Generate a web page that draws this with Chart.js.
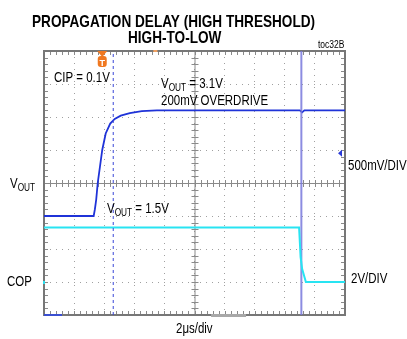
<!DOCTYPE html>
<html>
<head>
<meta charset="utf-8">
<script src="https://cdn.jsdelivr.net/npm/chart.js@4.4.1/dist/chart.umd.min.js"></script>
<style>
  body { margin: 0; background: #fff; }
</style>
</head>
<body>
<canvas id="chart" width="407" height="339"></canvas>
<script>
// horizontal: 2us/div over 10 divisions
const timeRange = [0, 20];
// VOUT channel: 500mV/div, COP channel: 2V/div (8 divisions each)
const voutRange = [0, 4];
const copRange = [-2, 14];

const voutTime = [0, 3.3, 3.38, 3.47, 3.57, 3.72, 3.87, 4.1, 4.4, 4.7, 5.1, 5.7, 6.5, 7.5, 17.0, 17.15, 17.3, 20];
const voutVolts = [1.5, 1.5, 1.6, 1.75, 2.0, 2.25, 2.5, 2.75, 2.9, 2.97, 3.02, 3.06, 3.09, 3.1, 3.1, 3.07, 3.1, 3.1];

const copTime = [0, 16.95, 17.05, 17.15, 17.4, 20];
const copVolts = [3.3, 3.3, 1.5, 0.8, 0, 0];

const cursorTime = 4.6;    // dashed cursor, CIP = 0.1V
const edgeTime = 17.1;     // solid cursor on the COP edge
const triggerTime = 3.87;
const markerTime = 7.4;
const voutOffset = 2.45;

const toPoints = (xs, ys) => xs.map((x, i) => ({ x: x, y: ys[i] }));

// draws squeezed text like the scope printout
function label(ctx, text, x, y, size, bold, sx) {
  ctx.save();
  ctx.translate(x, y);
  ctx.scale(sx, 1);
  ctx.font = (bold ? 'bold ' : '') + size + 'px "Liberation Sans", Arial, sans-serif';
  ctx.fillText(text, 0, 0);
  const w = ctx.measureText(text).width * sx;
  ctx.restore();
  return x + w;
}

// V with OUT subscript, then the rest of the string
function voutLabel(ctx, rest, x, y, size, sx) {
  let nx = label(ctx, 'V', x, y, size, false, sx);
  nx = label(ctx, 'OUT', nx, y + 3, size * 0.72, false, sx);
  if (rest) label(ctx, rest, nx, y, size, false, sx);
}

const scopePlugin = {
  id: 'scope',
  beforeDatasetsDraw(chart) {
    const { ctx, chartArea: a, scales } = chart;
    const cx = scales.x.getPixelForValue(10);
    const cy = scales.y.getPixelForValue(2);
    ctx.save();
    ctx.strokeStyle = '#8a8a8a';
    ctx.lineWidth = 1;
    // centre cross
    ctx.beginPath();
    ctx.moveTo(a.left, cy + 0.5); ctx.lineTo(a.right, cy + 0.5);
    ctx.moveTo(cx + 0.5, a.top); ctx.lineTo(cx + 0.5, a.bottom);
    // minor ticks, 5 per division
    for (let t = 0; t <= 20; t += 0.4) {
      const px = Math.round(scales.x.getPixelForValue(t)) + 0.5;
      ctx.moveTo(px, cy - 3); ctx.lineTo(px, cy + 4);
      ctx.moveTo(px, a.top); ctx.lineTo(px, a.top + 4);
      ctx.moveTo(px, a.bottom); ctx.lineTo(px, a.bottom - 4);
    }
    for (let v = 0; v <= 4; v += 0.1) {
      const py = Math.round(scales.y.getPixelForValue(v)) + 0.5;
      ctx.moveTo(cx - 3, py); ctx.lineTo(cx + 4, py);
      ctx.moveTo(a.left, py); ctx.lineTo(a.left + 4, py);
      ctx.moveTo(a.right, py); ctx.lineTo(a.right - 4, py);
    }
    ctx.stroke();
    // frame
    ctx.strokeStyle = '#777';
    ctx.lineWidth = 2;
    ctx.strokeRect(a.left, a.top, a.right - a.left, a.bottom - a.top);
    // bottom status bars
    ctx.fillStyle = '#3a4fd0';
    ctx.fillRect(a.left, a.bottom - 1, 18, 2);
    ctx.fillStyle = '#a8a8a8';
    ctx.fillRect(scales.x.getPixelForValue(11.1), a.bottom - 1, 35, 3);
    ctx.restore();
  },
  afterDatasetsDraw(chart) {
    const { ctx, chartArea: a, scales } = chart;
    ctx.save();
    // trigger marker
    const tx = scales.x.getPixelForValue(triggerTime);
    ctx.fillStyle = '#f07820';
    ctx.beginPath();
    ctx.moveTo(tx - 5, a.top); ctx.lineTo(tx + 5, a.top); ctx.lineTo(tx, a.top + 6);
    ctx.fill();
    ctx.beginPath();
    ctx.roundRect(tx - 4.5, a.top + 5, 9, 11, 3);
    ctx.fill();
    ctx.fillStyle = '#fff';
    ctx.font = 'bold 9px "Liberation Sans", sans-serif';
    ctx.textAlign = 'center';
    ctx.fillText('T', tx, a.top + 14.5);
    ctx.textAlign = 'left';
    // delay marker on the top edge
    ctx.fillStyle = '#f0a060';
    ctx.fillRect(scales.x.getPixelForValue(markerTime) - 2, a.top - 1, 4, 2);
    // VOUT offset arrow
    const oy = scales.y.getPixelForValue(voutOffset);
    ctx.fillStyle = '#2a3ad8';
    ctx.beginPath();
    ctx.moveTo(a.right - 7, oy); ctx.lineTo(a.right - 3, oy - 3.5); ctx.lineTo(a.right - 3, oy + 3.5);
    ctx.fill();
    // COP ground marker
    ctx.fillStyle = '#30e0f0';
    ctx.fillRect(a.left - 1, scales.yCop.getPixelForValue(0) - 1, 2, 3);

    // text
    ctx.fillStyle = '#000';
    label(ctx, 'PROPAGATION DELAY (HIGH THRESHOLD)', 32, 27, 17, true, 0.8);
    label(ctx, 'HIGH-TO-LOW', 128, 43, 17, true, 0.8);
    label(ctx, 'toc32B', 318, 48, 10, false, 0.85);
    label(ctx, 'CIP = 0.1V', 54, 82, 14, false, 0.82);
    voutLabel(ctx, ' = 3.1V', 161, 88, 14, 0.82);
    label(ctx, '200mV OVERDRIVE', 161, 105, 14, false, 0.82);
    label(ctx, '500mV/DIV', 348, 170, 14, false, 0.82);
    voutLabel(ctx, '', 10, 188, 14, 0.82);
    voutLabel(ctx, ' = 1.5V', 107, 213, 14, 0.82);
    label(ctx, 'COP', 7, 286, 14, false, 0.82);
    label(ctx, '2V/DIV', 351, 283, 14, false, 0.82);
    label(ctx, '2\u03bcs/div', 176, 333, 14, false, 0.82);
    ctx.restore();
  }
};

new Chart(document.getElementById('chart'), {
  type: 'line',
  data: {
    datasets: [
      {
        label: 'dashed cursor',
        data: toPoints([cursorTime, cursorTime], voutRange),
        borderColor: '#3a48d8',
        borderWidth: 1,
        borderDash: [3, 3],
        pointRadius: 0,
        yAxisID: 'y'
      },
      {
        label: 'COP',
        data: toPoints(copTime, copVolts),
        borderColor: '#28e4f2',
        borderWidth: 2,
        pointRadius: 0,
        yAxisID: 'yCop'
      },
      {
        label: 'edge cursor',
        data: toPoints([edgeTime, edgeTime], voutRange),
        borderColor: 'rgba(120, 120, 220, 0.85)',
        borderWidth: 2,
        pointRadius: 0,
        yAxisID: 'y'
      },
      {
        label: 'VOUT',
        data: toPoints(voutTime, voutVolts),
        borderColor: '#1f33d8',
        borderWidth: 1.8,
        pointRadius: 0,
        yAxisID: 'y'
      }
    ]
  },
  options: {
    responsive: false,
    animation: false,
    events: [],
    layout: { padding: { left: 44, top: 51, right: 62, bottom: 24 } },
    plugins: { legend: { display: false }, tooltip: { enabled: false } },
    scales: {
      x: {
        type: 'linear',
        min: timeRange[0],
        max: timeRange[1],
        ticks: { display: false, stepSize: 2 },
        grid: { color: '#a0a0a0', drawTicks: false },
        border: { display: false, dash: [1, 5] }
      },
      y: {
        min: voutRange[0],
        max: voutRange[1],
        ticks: { display: false, stepSize: 0.5 },
        grid: { color: '#a0a0a0', drawTicks: false },
        border: { display: false, dash: [1, 5] }
      },
      yCop: {
        display: false,
        min: copRange[0],
        max: copRange[1]
      }
    }
  },
  plugins: [scopePlugin]
});
</script>
</body>
</html>
